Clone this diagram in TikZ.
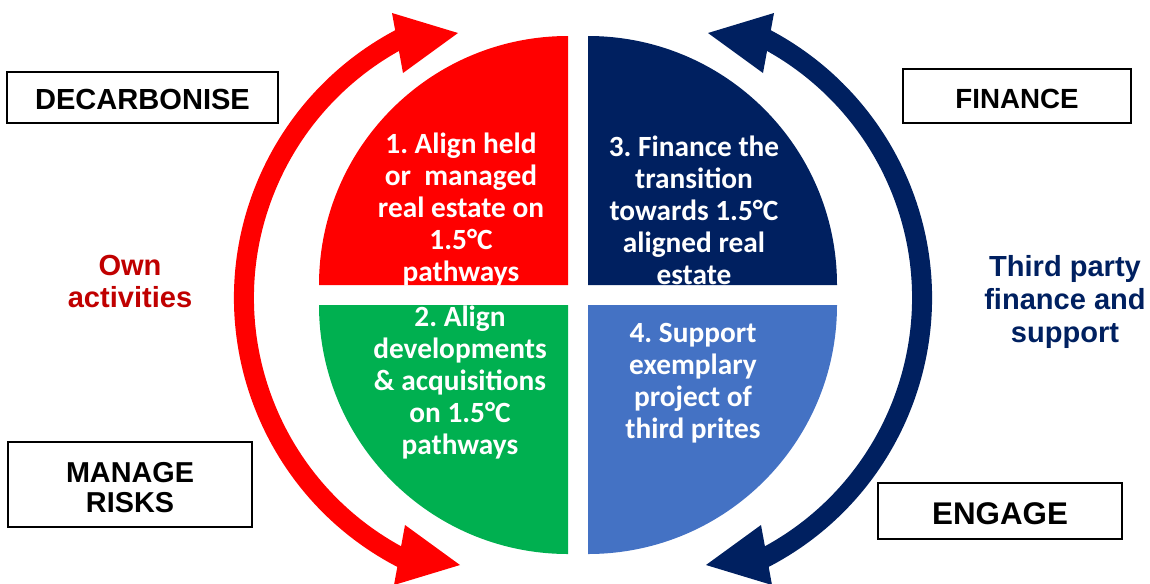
\documentclass[tikz,border=0pt]{standalone}
\usepackage{fontspec}
\setmainfont{Liberation Sans}
\newfontfamily\carl{Carlito}
\frenchspacing
\definecolor{qred}{HTML}{FF0000}
\definecolor{qnavy}{HTML}{002060}
\definecolor{qgreen}{HTML}{00B050}
\definecolor{qblue}{HTML}{4472C4}
\definecolor{ownred}{HTML}{C00000}
\tikzset{
  labelbox/.style={draw=black, line width=1.2pt, fill=white, inner sep=0pt},
  boxtext/.style={align=center, inner sep=0pt},
  quadtext/.style={text=white, align=center, font=\carl\bfseries\fontsize{22}{24}\selectfont},
  sidetext/.style={align=center},
  shaft/.style={line width=15pt, line cap=butt},
}
\begin{document}
\begin{tikzpicture}[x=0.75pt,y=-0.75pt]
\useasboundingbox (0,0) rectangle (1150,583);
% quadrants
\fill[qred] (568,285) -- (319,285) arc[start angle=180, end angle=270, radius=249] -- cycle;
\fill[qnavy] (588,285) -- (588,36) arc[start angle=270, end angle=360, radius=249] -- cycle;
\fill[qgreen] (568,305) -- (319,305) arc[start angle=180, end angle=90, radius=249] -- cycle;
\fill[qblue] (588,305) -- (837,305) arc[start angle=0, end angle=90, radius=249] -- cycle;
% red double arrow
\draw[qred, shaft] (537,298) ++(115:293) arc[start angle=115, end angle=244, radius=293];
\fill[qred] (392,13) -- (403,73) -- (458,33) -- cycle;
\fill[qred] (405,525) -- (394,585) -- (460,565) -- cycle;
% navy double arrow
\draw[qnavy, shaft] (629,298) ++(65:293) arc[start angle=65, end angle=-64, radius=293];
\fill[qnavy] (774,13) -- (763,73) -- (708,33) -- cycle;
\fill[qnavy] (761,525) -- (772,585) -- (706,565) -- cycle;
% quadrant texts
\node[quadtext] (q1) at (461,210) {1. Align held\\or\ \ managed\\real estate on\\1.5°C\\pathways};
\node[quadtext] (q3) at (694,210) {3. Finance the\\transition\\towards 1.5°C\\aligned real\\estate};
\node[quadtext] (q2) at (460,383) {2. Align\\developments\\\& acquisitions\\on 1.5°C\\pathways};
\node[quadtext] (q4) at (693,383) {4. Support\\exemplary\\project of\\third prites};
% side texts
\node[sidetext, text=ownred, font=\bfseries\fontsize{21.8}{24}\selectfont] (own) at (130,281) {Own\\activities};
\node[sidetext, text=qnavy, font=\bfseries\fontsize{21.8}{24.75}\selectfont] (third) at (1065,301.5) {Third party\\finance and\\support};
% boxes
\node[labelbox, minimum width=203.25pt, minimum height=38.25pt] (decarb) at (142.5,97.5) {};
\node[boxtext, font=\bfseries\fontsize{21.8}{24}\selectfont] (decarbt) at (142.5,99) {DECARBONISE};
\node[labelbox, minimum width=183pt, minimum height=63.75pt] (manage) at (130,484.5) {};
\node[boxtext, font=\bfseries\fontsize{21.6}{22.5}\selectfont] (managet) at (130,488) {MANAGE\\RISKS};
\node[labelbox, minimum width=171pt, minimum height=40.5pt] (finance) at (1017,96) {};
\node[boxtext, font=\bfseries\fontsize{20.8}{24}\selectfont] (financet) at (1017,98.5) {FINANCE};
\node[labelbox, minimum width=183pt, minimum height=42pt] (engage) at (1000,511) {};
\node[boxtext, font=\bfseries\fontsize{23.5}{24}\selectfont] (engaget) at (1000,513.5) {ENGAGE};
\end{tikzpicture}
\end{document}
